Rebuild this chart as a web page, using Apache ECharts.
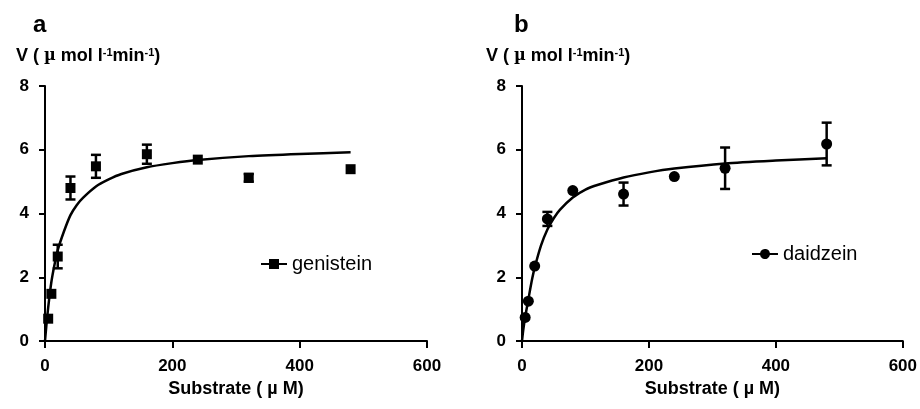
<!DOCTYPE html>
<html>
<head>
<meta charset="utf-8">
<script src="https://cdn.jsdelivr.net/npm/echarts@6/dist/echarts.min.js"></script>
<style>
html,body{margin:0;padding:0;background:#fff;}
#chart{width:920px;height:409px;}
</style>
</head>
<body>
<div id="chart"></div>
<script>
// substrate concentrations (uM)
var substrate = [5, 10, 20, 40, 80, 160, 240, 320, 480];
var genisteinV = [0.7, 1.48, 2.65, 4.8, 5.48, 5.86, 5.69, 5.12, 5.39];
var genisteinErr = [0, 0, 0.37, 0.36, 0.36, 0.3, 0, 0.12, 0];
var daidzeinV = [0.74, 1.25, 2.35, 3.83, 4.72, 4.61, 5.16, 5.42, 6.18];
var daidzeinErr = [0, 0, 0, 0.22, 0, 0.36, 0, 0.65, 0.67];
// fitted curves
var fitS = [0, 2, 5, 10, 15, 20, 30, 40, 50, 60, 80, 100, 120, 160, 200, 240, 320, 400, 480];
var genisteinFit = [0, 0.45, 1.05, 1.85, 2.4, 2.85, 3.45, 3.95, 4.27, 4.5, 4.85, 5.07, 5.24, 5.45, 5.58, 5.68, 5.8, 5.87, 5.92];
var daidzeinFit = [0, 0.35, 0.75, 1.3, 1.85, 2.3, 3.0, 3.5, 3.85, 4.12, 4.5, 4.75, 4.9, 5.13, 5.29, 5.41, 5.57, 5.66, 5.73];
var xTicks = [0, 200, 400, 600];
var yTicks = [0, 2, 4, 6, 8];

var font = 'Liberation Sans, Arial, sans-serif';
var myChart = echarts.init(document.getElementById('chart'));

function pairs(xs, ys) {
  var out = [];
  for (var i = 0; i < xs.length; i++) out.push([xs[i], ys[i]]);
  return out;
}
function errData(xs, ys, es) {
  var out = [];
  for (var i = 0; i < xs.length; i++) {
    if (es[i] > 0) out.push([xs[i], ys[i] - es[i], ys[i] + es[i]]);
  }
  return out;
}
function errRender(params, api) {
  var lo = api.coord([api.value(0), api.value(1)]);
  var hi = api.coord([api.value(0), api.value(2)]);
  var w = 5;
  var st = {stroke: '#000', lineWidth: 2.5};
  return {
    type: 'group',
    children: [
      {type: 'line', shape: {x1: lo[0], y1: lo[1], x2: hi[0], y2: hi[1]}, style: st},
      {type: 'line', shape: {x1: lo[0] - w, y1: lo[1], x2: lo[0] + w, y2: lo[1]}, style: st},
      {type: 'line', shape: {x1: hi[0] - w, y1: hi[1], x2: hi[0] + w, y2: hi[1]}, style: st}
    ]
  };
}

function xAxis(idx) {
  return {
    type: 'value', gridIndex: idx, min: 0, max: 600, interval: 200,
    name: 'Substrate ( \u00b5 M)', nameLocation: 'middle', nameGap: 39,
    nameTextStyle: {fontFamily: font, fontWeight: 'bold', fontSize: 18, color: '#000'},
    axisLine: {lineStyle: {color: '#000', width: 2}},
    axisTick: {show: true, length: 7, lineStyle: {color: '#000', width: 2}},
    axisLabel: {fontFamily: font, fontWeight: 'bold', fontSize: 17, color: '#000', margin: 17,
      formatter: function (v) { return xTicks.indexOf(v) >= 0 ? String(v) : ''; }},
    splitLine: {show: false}
  };
}
function yAxis(idx) {
  return {
    type: 'value', gridIndex: idx, min: 0, max: 8, interval: 2,
    axisLine: {show: true, lineStyle: {color: '#000', width: 2}},
    axisTick: {show: true, length: 6, lineStyle: {color: '#000', width: 2}},
    axisLabel: {fontFamily: font, fontWeight: 'bold', fontSize: 17, color: '#000', margin: 16,
      formatter: function (v) { return yTicks.indexOf(v) >= 0 ? String(v) : ''; }},
    splitLine: {show: false}
  };
}

var vLabel = '{b|V ( }{mu|\u00b5}{b| mol l}{s|-1}{b|min}{s|-1}{b|)}';
var vRich = {
  b: {fontFamily: font, fontWeight: 'bold', fontSize: 18, color: '#000'},
  mu: {fontFamily: 'DejaVu Serif, serif', fontSize: 16, color: '#000'},
  s: {fontFamily: font, fontWeight: 'bold', fontSize: 11, color: '#000', verticalAlign: 'top', padding: [0, 0, 6, 0]}
};

var squareIcon = 'path://M0,4H8V0H18V4H26V6H18V10H8V6H0Z';
var circleIcon = 'path://M0,4H8.1A5,5 0 0 1 17.9,4H26V6H17.9A5,5 0 0 1 8.1,6H0Z';

option = {
  backgroundColor: '#fff',
  animation: false,
  title: [
    {text: 'a', left: 28, top: 8, textStyle: {fontFamily: font, fontWeight: 'bold', fontSize: 24, color: '#000'}},
    {text: vLabel, left: 11, top: 42, textStyle: {rich: vRich}},
    {text: 'b', left: 509, top: 8, textStyle: {fontFamily: font, fontWeight: 'bold', fontSize: 24, color: '#000'}},
    {text: vLabel, left: 481, top: 42, textStyle: {rich: vRich}}
  ],
  legend: [
    {data: [{name: 'genistein', icon: squareIcon}], left: 256, top: 249, itemWidth: 26, itemHeight: 10, itemGap: 5,
      selectedMode: false, textStyle: {fontFamily: font, fontSize: 20, color: '#000'}, itemStyle: {color: '#000'}},
    {data: [{name: 'daidzein', icon: circleIcon}], left: 747, top: 239, itemWidth: 26, itemHeight: 10, itemGap: 5,
      selectedMode: false, textStyle: {fontFamily: font, fontSize: 20, color: '#000'}, itemStyle: {color: '#000'}}
  ],
  grid: [
    {left: 45, top: 86, width: 382, height: 255},
    {left: 522, top: 86, width: 381, height: 255}
  ],
  xAxis: [xAxis(0), xAxis(1)],
  yAxis: [yAxis(0), yAxis(1)],
  series: [
    {name: 'genisteinFit', type: 'line', xAxisIndex: 0, yAxisIndex: 0, data: pairs(fitS, genisteinFit),
      showSymbol: false, smooth: 0.25, lineStyle: {color: '#000', width: 2.5}, z: 2},
    {name: 'genisteinErr', type: 'custom', xAxisIndex: 0, yAxisIndex: 0, data: errData(substrate, genisteinV, genisteinErr),
      renderItem: errRender, z: 3},
    {name: 'genistein', type: 'scatter', xAxisIndex: 0, yAxisIndex: 0, data: pairs(substrate, genisteinV),
      symbol: 'rect', symbolSize: 10, itemStyle: {color: '#000', opacity: 1}, z: 4},
    {name: 'daidzeinFit', type: 'line', xAxisIndex: 1, yAxisIndex: 1, data: pairs(fitS, daidzeinFit),
      showSymbol: false, smooth: 0.25, lineStyle: {color: '#000', width: 2.5}, z: 2},
    {name: 'daidzeinErr', type: 'custom', xAxisIndex: 1, yAxisIndex: 1, data: errData(substrate, daidzeinV, daidzeinErr),
      renderItem: errRender, z: 3},
    {name: 'daidzein', type: 'scatter', xAxisIndex: 1, yAxisIndex: 1, data: pairs(substrate, daidzeinV),
      symbol: 'circle', symbolSize: 11, itemStyle: {color: '#000', opacity: 1}, z: 4}
  ]
};
myChart.setOption(option);
</script>
</body>
</html>
